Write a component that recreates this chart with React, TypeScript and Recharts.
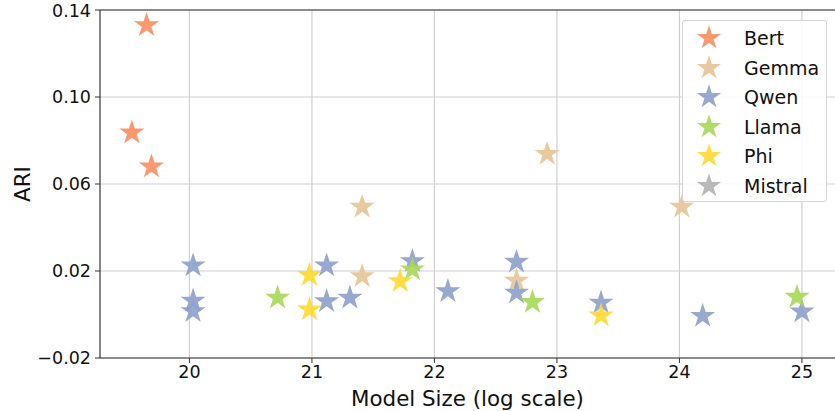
import { ScatterChart, Scatter, XAxis, YAxis, CartesianGrid, ReferenceLine, Label, Symbols } from 'recharts'

// x = model size (log scale), y = ARI, one pair of arrays per family
const bertX = [19.65, 19.53, 19.69]
const bertY = [0.133, 0.0836, 0.068]

const gemmaX = [21.41, 21.41, 22.92, 24.02, 22.67]
const gemmaY = [0.0495, 0.0176, 0.0738, 0.0495, 0.0155]

const qwenX = [20.03, 20.03, 20.03, 21.12, 21.12, 21.31, 21.82, 22.11, 22.67, 22.67, 23.36, 24.19, 25.0]
const qwenY = [0.0225, 0.0063, 0.0015, 0.0225, 0.0061, 0.0077, 0.0245, 0.0107, 0.0242, 0.0100, 0.0054, -0.0007, 0.0013]

const llamaX = [20.72, 21.82, 22.8, 24.96]
const llamaY = [0.0077, 0.0207, 0.0057, 0.0081]

const phiX = [20.98, 20.98, 21.72, 23.36]
const phiY = [0.0181, 0.0023, 0.0153, -0.0005]

const mistralX: number[] = []
const mistralY: number[] = []

const xTicks = [20, 21, 22, 23, 24, 25]
const yTicks = [-0.02, 0.02, 0.06, 0.1, 0.14]

const families = [
  { name: 'Bert', color: '#FC8D62', xs: bertX, ys: bertY },
  { name: 'Gemma', color: '#E5C494', xs: gemmaX, ys: gemmaY },
  { name: 'Qwen', color: '#8DA0CB', xs: qwenX, ys: qwenY },
  { name: 'Llama', color: '#A6D854', xs: llamaX, ys: llamaY },
  { name: 'Phi', color: '#FFD92F', xs: phiX, ys: phiY },
  { name: 'Mistral', color: '#B3B3B3', xs: mistralX, ys: mistralY },
]

const FONT = 'DejaVu Sans, sans-serif'
const STAR = 195

const fmtY = (v: number) => (v < 0 ? '\u2212' + Math.abs(v).toFixed(2) : v.toFixed(2))

function LegendBox() {
  return (
    <div
      style={{
        position: 'absolute',
        left: 682,
        top: 20,
        width: 145,
        height: 182,
        border: '1px solid #d6d6d6',
        borderRadius: 3,
        background: 'rgba(255,255,255,0.85)',
        boxSizing: 'border-box',
        fontFamily: FONT,
        fontSize: 19,
        color: '#111',
      }}
    >
      {families.map((f, i) => (
        <div key={f.name} style={{ position: 'absolute', left: 0, top: 4 + i * 29.5, height: 26, display: 'flex', alignItems: 'center' }}>
          <svg width={52} height={26} style={{ display: 'block' }}>
            <Symbols cx={26} cy={13} type="star" size={180} fill={f.color} fillOpacity={0.9} />
          </svg>
          <span style={{ marginLeft: 9, lineHeight: '26px' }}>{f.name}</span>
        </div>
      ))}
    </div>
  )
}

export default function App() {
  return (
    <div style={{ position: 'absolute', left: 0, top: 0, width: 835, height: 411, background: '#fff' }}>
      <ScatterChart width={835} height={411} margin={{ top: 10, right: 0, bottom: 0, left: 0 }}>
        <CartesianGrid stroke="#d0d0d0" strokeWidth={1.2} horizontalValues={yTicks} verticalValues={xTicks} />
        <XAxis
          type="number"
          dataKey="x"
          domain={[19.27, 25.27]}
          ticks={xTicks}
          allowDataOverflow
          height={53}
          tickSize={5}
          tickMargin={3}
          axisLine={{ stroke: '#333', strokeWidth: 1.2 }}
          tickLine={{ stroke: '#333' }}
          tick={{ fontFamily: FONT, fontSize: 17.5, fill: '#111' }}
        >
          <Label value="Model Size (log scale)" position="insideBottom" offset={5} style={{ fontFamily: FONT, fontSize: 21.4, fill: '#111' }} />
        </XAxis>
        <YAxis
          type="number"
          dataKey="y"
          domain={[-0.02, 0.14]}
          ticks={yTicks}
          allowDataOverflow
          width={100}
          tickSize={5}
          tickMargin={4}
          tickFormatter={fmtY}
          axisLine={{ stroke: '#333', strokeWidth: 1.2 }}
          tickLine={{ stroke: '#333' }}
          tick={{ fontFamily: FONT, fontSize: 17.5, fill: '#111' }}
        >
          <Label
            content={(props: any) => {
              const vb = props.viewBox || { y: 10, height: 348 }
              const cy = vb.y + vb.height / 2
              return (
                <text x={22} y={cy} transform={`rotate(-90 22 ${cy})`} textAnchor="middle" dominantBaseline="central" style={{ fontFamily: FONT, fontSize: 21.4, fill: '#111' }}>
                  ARI
                </text>
              )
            }}
          />
        </YAxis>
        <ReferenceLine y={0.14} stroke="#333" strokeWidth={1.2} />
        {families.map(f => (
          <Scatter
            key={f.name}
            name={f.name}
            data={f.xs.map((x, i) => ({ x, y: f.ys[i] }))}
            shape={(p: any) => <Symbols cx={p.cx} cy={p.cy} type="star" size={STAR} fill={f.color} fillOpacity={0.9} />}
            isAnimationActive={false}
          />
        ))}
      </ScatterChart>
      <LegendBox />
    </div>
  )
}
